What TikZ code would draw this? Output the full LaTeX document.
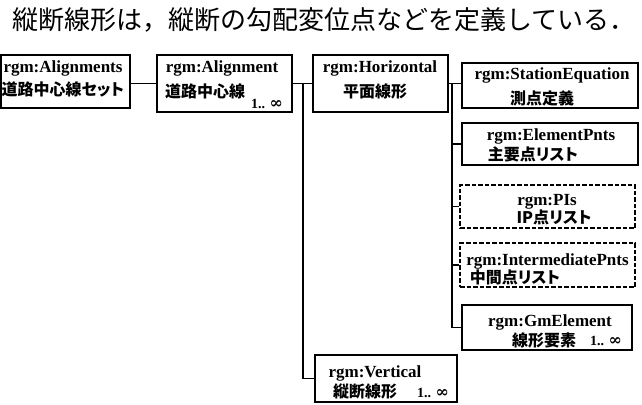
\documentclass[tikz,border=0pt]{standalone}
\usepackage{fontspec}
\setmainfont{Liberation Serif}
\newfontfamily\jp{Noto Sans CJK JP}
\newfontfamily\jpp{Noto Sans CJK JP}[RawFeature=+palt]
\newfontfamily\symfont{DejaVu Serif}
\tikzset{
  x=1pt, y=-1pt,
  box/.style={draw, line width=1.8pt, inner sep=0pt},
  dbox/.style={box, line width=2.3pt, dash pattern=on 4.5pt off 2pt},
  en/.style={inner sep=0pt, anchor=base, font=\fontsize{17}{17}\selectfont\bfseries},
  ja/.style={inner sep=0pt, font=\jpp\fontsize{16}{16}\selectfont\bfseries},
  mult/.style={inner sep=0pt, anchor=base, font=\fontsize{14}{14}\selectfont\bfseries},
  link/.style={line width=1.2pt},
}
\newcommand{\infsym}{{\symfont\fontsize{16}{16}\selectfont\bfseries ∞}}
\newcommand{\rbox}[6]{% name, style, left, top, right, bottom
  \node[#2, minimum width={#5-#3}, minimum height={#6-#4}] (#1) at ({(#3+#5)/2},{(#4+#6)/2}) {};}
\begin{document}
\begin{tikzpicture}
\useasboundingbox (0,0) rectangle (642,404);
\clip (0,0) rectangle (642,404);

% heading
\node[inner sep=0pt, anchor=base west, font=\jp\fontsize{26}{26}\selectfont] (title) at (12,30)
  {縦断線形は，縦断の勾配変位点などを定義している．};

% boxes
\rbox{b1}{box}{0.9}{55}{130}{108}
\rbox{b2}{box}{157}{55}{292}{112}
\rbox{b3}{box}{313}{55}{448}{112}
\rbox{b4}{box}{462}{63}{638}{108}
\rbox{b5}{box}{462}{123}{638}{165}
\rbox{b6}{dbox}{460}{185}{635}{228}
\rbox{b7}{dbox}{460}{243}{635}{287}
\rbox{b8}{box}{462}{305}{632}{350}
\rbox{b9}{box}{315}{355}{457}{402}

% labels
\node[en] (b1e) at (63,73) {rgm:Alignments};
\node[ja, anchor=west] (b1j) at (1.5,89) {道路中心線セット};

\node[en] (b2e) at (222,73) {rgm:Alignment};
\node[ja, anchor=west] (b2j) at (165,91) {道路中心線};
\node[mult] (b2m) at (267,108) {1.. \infsym};

\node[en] (b3e) at (380,73) {rgm:Horizontal};
\node[ja] (b3j) at (375,91) {平面線形};

\node[en] (b4e) at (552,79) {rgm:StationEquation};
\node[ja] (b4j) at (542,98) {測点定義};

\node[en] (b5e) at (551,140) {rgm:ElementPnts};
\node[ja] (b5j) at (533,154) {主要点リスト};

\node[en] (b6e) at (547,205) {rgm:PIs};
\node[ja] (b6j) at (554,217) {IP点リスト};

\node[en] (b7e) at (547.5,265) {rgm:IntermediatePnts};
\node[ja] (b7j) at (515,277) {中間点リスト};

\node[en] (b8e) at (550,326) {rgm:GmElement};
\node[ja] (b8j) at (544,340) {線形要素};
\node[mult] (b8m) at (606,345) {1.. \infsym};

\node[en] (b9e) at (375,377) {rgm:Vertical};
\node[ja] (b9j) at (365,391) {縦断線形};
\node[mult] (b9m) at (433,397) {1.. \infsym};

% connectors
\coordinate (j1) at (303,83.5);
\coordinate (j2) at (452,83.5);
\draw[link] (b2.west) -- (b2.west -| b1.east);
\draw[link] (b2.east) -- (b3.west);
\draw[link] (j1) |- (b9.west);
\draw[link] (b3.east) -- (b3.east -| b4.west);
\draw[link] (j2) |- (b8.west);
\draw[link] (b5.west) -- (b5.west -| j2);
\draw[link] (b6.west) -- (b6.west -| j2);
\draw[link] (b7.west) -- (b7.west -| j2);
\end{tikzpicture}
\end{document}
